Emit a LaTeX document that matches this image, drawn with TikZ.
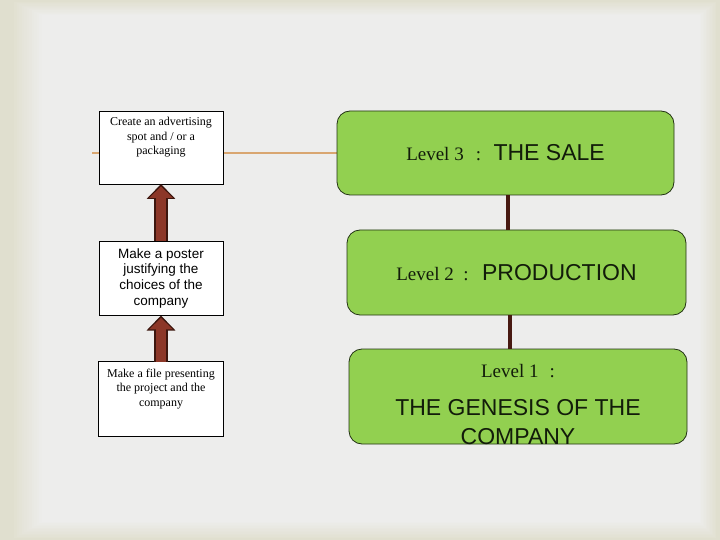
\documentclass[tikz,border=0pt]{standalone}
\usepackage{fontspec}
\setmainfont{Liberation Serif}
\setsansfont{Liberation Sans}
\usetikzlibrary{positioning,backgrounds,arrows.meta}

\definecolor{bgouter}{RGB}{224,223,207}
\definecolor{bginner}{RGB}{237,237,236}
\definecolor{levelgreen}{RGB}{146,208,80}
\definecolor{greenedge}{RGB}{35,50,20}
\definecolor{arrowfill}{RGB}{140,55,40}
\definecolor{arrowedge}{RGB}{60,22,14}
\definecolor{linkbrown}{RGB}{72,26,18}
\definecolor{tanline}{RGB}{217,166,112}
\definecolor{darktext}{RGB}{18,28,10}

% text pinned to the top of a box: height, width, top gap, text
\newcommand{\topbox}[4]{\parbox[c][#1][t]{#2}{\centering\vspace*{#3}#4\par}}

\begin{document}
\begin{tikzpicture}[
        x=1pt, y=-1pt,
        % box styles
        taskbox/.style={rectangle, draw=black, line width=0.8pt, fill=white, inner sep=0pt, outer sep=0pt, minimum width=124pt, minimum height=74pt, align=center, text=black},
        levelbox/.style={rectangle, rounded corners=13pt, draw=greenedge, line width=0.8pt, fill=levelgreen, inner sep=0pt, outer sep=0pt, minimum width=338pt, minimum height=85pt, align=center, text=darktext},
        % connectors
        blockarrow/.style={preaction={draw=arrowedge, line width=14pt, shorten >=0pt, -{Triangle[width=28pt,length=15pt]}}, draw=arrowfill, line width=10pt, shorten >=2.4pt, -{Triangle[width=23pt,length=11.5pt]}},
        linkline/.style={draw=linkbrown, line width=4pt},
        tanrule/.style={draw=tanline, line width=1.8pt}
    ]
        % background
        \begin{scope}[on background layer]
            \fill[bgouter] (0,0) rectangle (720,540);
            \foreach \i in {0,...,11} {
                \pgfmathtruncatemacro{\mix}{\i*8+12}
                \fill[bginner!\mix!bgouter] (14+2.5*\i,2+1.2*\i) rectangle (716-1.5*\i,538-1.5*\i);
            }
        \end{scope}

        % left column
        \node[taskbox, minimum height=73pt] (advert) at (161,147.5) {\topbox{73pt}{120pt}{6.5pt}{\fontsize{12}{14.5}\selectfont Create an advertising\\ spot and / or a\\ packaging}};
        \node[taskbox, below=57pt of advert, minimum height=74.5pt, font=\sffamily\fontsize{13.5}{15.8}\selectfont] (poster) {Make a poster\\ justifying the\\ choices of the\\ company};
        \node[taskbox, below=46pt of poster, minimum width=125.5pt, minimum height=74.5pt] (pfile) {\topbox{74.5pt}{121pt}{7.5pt}{\fontsize{12}{14.5}\selectfont Make a file presenting\\ the project and the\\ company}};

        % right column
        \node[levelbox, minimum width=337pt, minimum height=84pt] (lvl3) at (505.5,153) {{\fontsize{19}{23}\selectfont Level 3\hspace{12pt}:\hspace{12.5pt}}{\sffamily\fontsize{23}{28}\selectfont THE SALE}};
        \node[levelbox, below=35pt of lvl3, xshift=11pt, minimum width=339pt] (lvl2) {{\fontsize{19}{23}\selectfont Level 2\hspace{9.5pt}:\hspace{13.5pt}}{\sffamily\fontsize{23}{28}\selectfont PRODUCTION}};
        \node[levelbox, below=34pt of lvl2, xshift=1.5pt, minimum height=95pt] (lvl1) {\topbox{95pt}{330pt}{15pt}{{\fontsize{19}{23}\selectfont Level 1\hspace{11pt}:\par}\vspace{9pt}{\sffamily\fontsize{23}{29}\selectfont THE GENESIS OF THE\\ COMPANY\par}}};

        % links
        \coordinate (tanstart) at (92,153);
        \begin{scope}[on background layer]
            \draw[tanrule] (tanstart) -- (lvl3.west);
        \end{scope}
        \draw[blockarrow] (poster.north) -- (poster.north |- advert.south);
        \draw[blockarrow] (pfile.north) -- (pfile.north |- poster.south);
        \draw[linkline] ([xshift=2.5pt]lvl3.south) -- ([xshift=-8.5pt]lvl2.north);
        \draw[linkline] ([xshift=-6.5pt]lvl2.south) -- ([xshift=-8pt]lvl1.north);

    \end{tikzpicture}
\end{document}
